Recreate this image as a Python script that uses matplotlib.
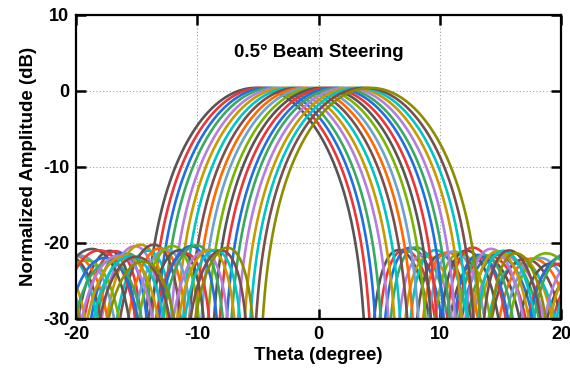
import numpy as np
import matplotlib
matplotlib.use("Agg")
import matplotlib.pyplot as plt

# steering angles of the beams (degree)
steerAngles = [-5.2, -4.7, -4.2, -3.7, -3.2, -2.7, -2.2, -1.7, -1.2, -0.7,
               -0.2, 0.3, 0.8, 1.3, 1.8, 2.3, 2.8, 3.3, 3.8, 4.3]
lineColors = ["#555555", "#ee3535", "#1f6fe0", "#3aa860", "#b47ee0",
              "#c89a00", "#00c4c8", "#7a4e4e", "#ff6a00", "#6fa0d2",
              "#78b400", "#555555", "#ee3535", "#1f6fe0", "#3aa860",
              "#b47ee0", "#c89a00", "#00c4c8", "#7a4e4e", "#8c8c00"]
xTicks = [-20, -10, 0, 10, 20]
yTicks = [-30, -20, -10, 0, 10]

# array used for the patterns
numElements = 16
spacing = 0.476        # in wavelengths
sideLobeLevel = 21.0   # dB, Taylor taper
nbar = 3
phaseBits = 6
peakOffset = 0.4       # dB, peaks sit a little above 0


def taylorWeights(N, sll, nb):
    A = np.arccosh(10 ** (sll / 20.0)) / np.pi
    sig2 = nb ** 2 / (A ** 2 + (nb - 0.5) ** 2)
    x = (np.arange(N) - (N - 1) / 2.0) / N
    w = np.ones(N)
    for m in range(1, nb):
        num = 1.0
        den = 1.0
        for k in range(1, nb):
            num *= 1 - m ** 2 / sig2 / (A ** 2 + (k - 0.5) ** 2)
            if k != m:
                den *= 1 - m ** 2 / float(k ** 2)
        F = (-1) ** (m + 1) * num / (2 * den)
        w += 2 * F * np.cos(2 * np.pi * m * x)
    return w


def beamPattern(theta, steer):
    n = np.arange(numElements)
    w = taylorWeights(numElements, sideLobeLevel, nbar)
    phase = -2 * np.pi * spacing * n * np.sin(np.radians(steer))
    step = 2 * np.pi / 2 ** phaseBits
    phase = np.round(phase / step) * step
    arg = 2 * np.pi * spacing * np.outer(np.sin(np.radians(theta)), n) + phase
    af = np.abs(np.sum(w * np.exp(1j * arg), axis=1)) / np.sum(w)
    return 20 * np.log10(af + 1e-9) + peakOffset


theta = np.linspace(-20, 20, 4001)

plt.rcParams['font.family'] = ['Liberation Sans', 'DejaVu Sans']
plt.rcParams['font.weight'] = 'bold'

fig = plt.figure(figsize=(5.7, 3.81), dpi=100)
ax = fig.add_axes([0.1333, 0.163, 0.851, 0.798])

for i in range(len(steerAngles)):
    ax.plot(theta, beamPattern(theta, steerAngles[i]), color=lineColors[i], lw=1.9)

ax.set_xlim(-20, 20)
ax.set_ylim(-30, 10)
ax.set_xticks(xTicks)
ax.set_yticks(yTicks)
ax.set_xticklabels([str(t) for t in xTicks], fontsize=13, fontweight='bold')
ax.set_yticklabels([str(t) for t in yTicks], fontsize=13, fontweight='bold')
ax.tick_params(direction='in', length=7, width=1.8, top=True, right=True, pad=5)
ax.grid(True, linestyle=(0, (1, 2)), color='#a0a0a0', lw=0.8)
for s in ax.spines.values():
    s.set_linewidth(1.6)

ax.set_xlabel("Theta (degree)", fontsize=13.5, fontweight='bold', labelpad=3)
ax.set_ylabel("Normalized Amplitude (dB)", fontsize=13.5, fontweight='bold', labelpad=4)
ax.text(0, 5, "0.5° Beam Steering", ha='center', va='center', fontsize=13.5, fontweight='bold')

fig.savefig("out.png", dpi=100)
